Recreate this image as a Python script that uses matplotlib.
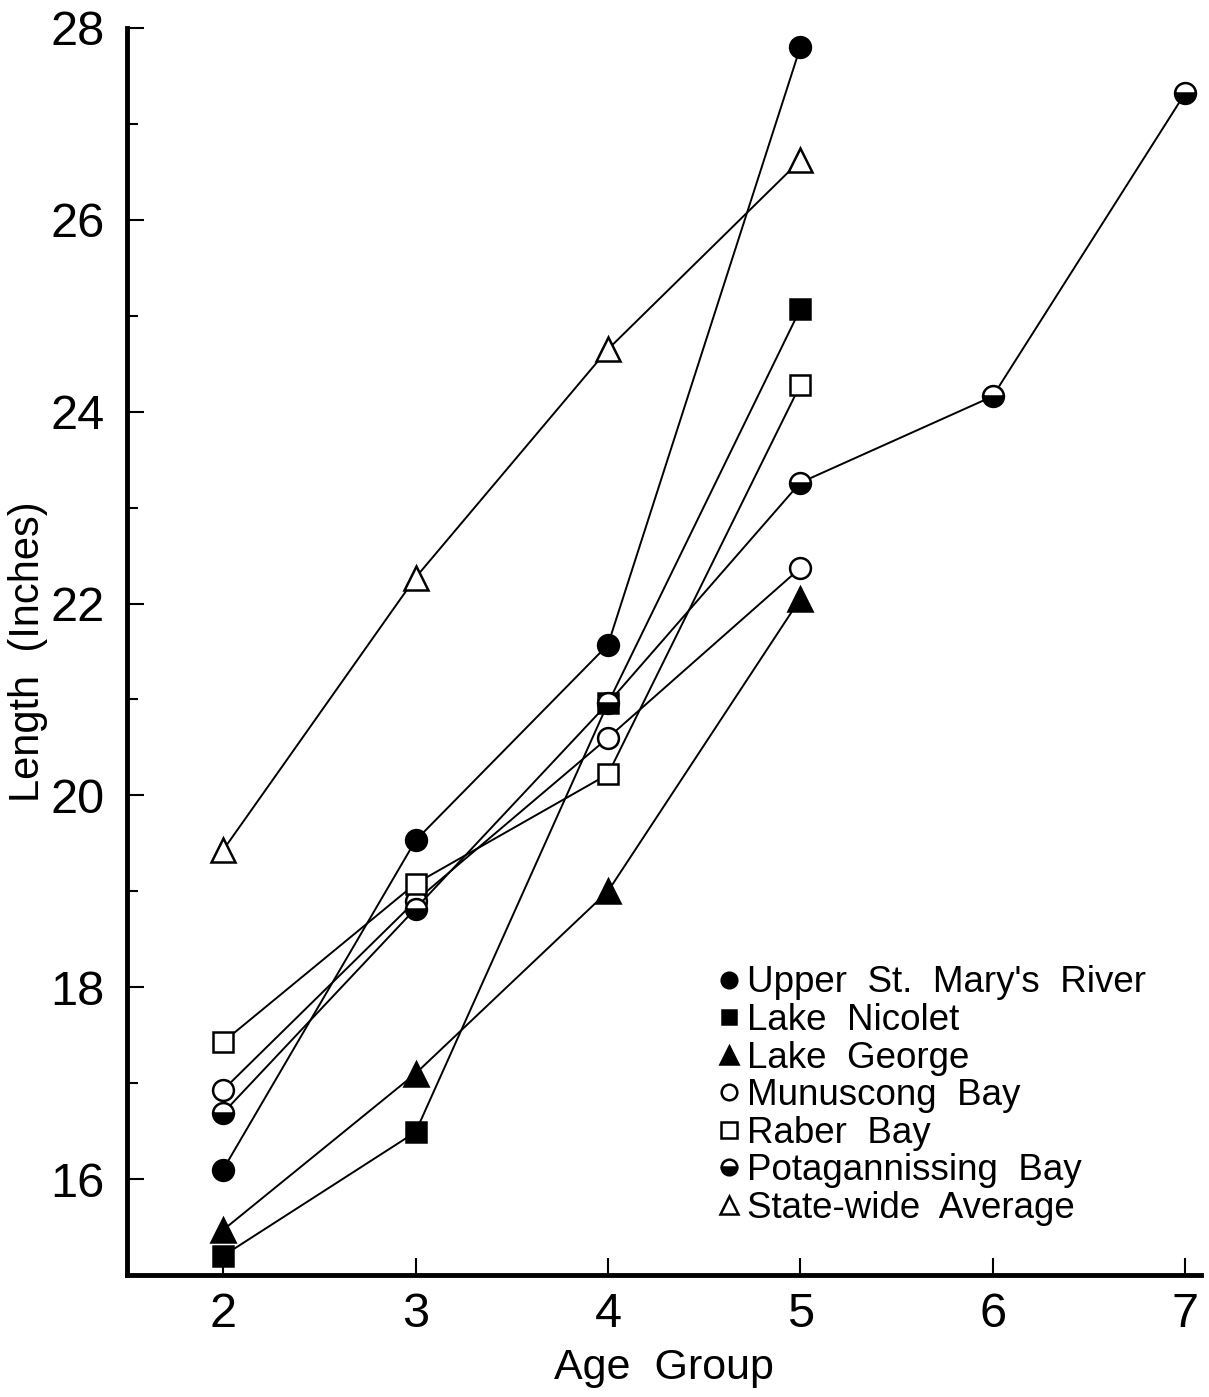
import matplotlib
matplotlib.use("Agg")
import matplotlib.pyplot as plt
from matplotlib.ticker import MultipleLocator

plt.rcParams['font.family'] = ['Liberation Sans', 'DejaVu Sans']

ages5 = [2, 3, 4, 5]
ages7 = [2, 3, 4, 5, 6, 7]

upper_st_marys = [16.1, 19.53, 21.57, 27.8]
lake_nicolet = [15.2, 16.49, 20.96, 25.07]
lake_george = [15.47, 17.1, 19.0, 22.05]
munuscong_bay = [16.93, 18.9, 20.6, 22.37]
raber_bay = [17.43, 19.08, 20.22, 24.28]
potagannissing_bay = [16.69, 18.82, 20.96, 23.26, 24.16, 27.32]
state_wide = [19.43, 22.27, 24.65, 26.62]

labels = ["Upper  St.  Mary's  River", "Lake  Nicolet", "Lake  George",
          "Munuscong  Bay", "Raber  Bay", "Potagannissing  Bay",
          "State-wide  Average"]

fig = plt.figure(figsize=(12.09, 13.97), dpi=100)
ax = fig.add_axes([0.105, 0.0873, 0.888, 0.8927])

lw = 1.4
ms = 15
series = [
    (ages5, upper_st_marys, dict(marker='o', mfc='black')),
    (ages5, lake_nicolet, dict(marker='s', mfc='black', ms=14)),
    (ages5, lake_george, dict(marker='^', mfc='black', ms=17)),
    (ages5, munuscong_bay, dict(marker='o', mfc='white')),
    (ages5, raber_bay, dict(marker='s', mfc='white', ms=15)),
    (ages7, potagannissing_bay, dict(marker='o', mfc='black', fillstyle='bottom', markerfacecoloralt='white')),
    (ages5, state_wide, dict(marker='^', mfc='white', ms=17)),
]
handles = []
for (x, y, kw), lab in zip(series, labels):
    k = dict(color='black', lw=lw, mec='black', mew=1.8, ms=ms)
    k.update(kw)
    h, = ax.plot(x, y, label=lab, **k)
    handles.append(h)

ax.set_xlim(1.5, 7.08)
ax.set_ylim(15, 28)
ax.set_xticks([2, 3, 4, 5, 6, 7])
ax.set_yticks([16, 18, 20, 22, 24, 26, 28])
ax.yaxis.set_minor_locator(MultipleLocator(1))
ax.tick_params(axis='both', which='major', direction='in', length=12, width=1.5, labelsize=35)
ax.tick_params(axis='x', which='major', pad=12)
ax.tick_params(axis='y', which='major', pad=16)
ax.tick_params(axis='y', which='minor', direction='in', length=8, width=1.5)
ax.spines['top'].set_visible(False)
ax.spines['right'].set_visible(False)
ax.spines['left'].set_linewidth(3.5)
ax.spines['bottom'].set_linewidth(3.5)
ax.set_xlabel('Age  Group', fontsize=31, labelpad=8)
ax.set_ylabel('Length  (Inches)', fontsize=30, labelpad=2)

leg = ax.legend(handles=handles, loc='upper left', bbox_to_anchor=(0.533, 0.263),
                frameon=False, fontsize=26.5, markerscale=0.75, handlelength=0.6,
                handletextpad=0.2, labelspacing=0.07, borderpad=0)
for h in leg.legend_handles:
    h.set_linestyle('none')

fig.savefig('out.png', dpi=100, facecolor='white')
